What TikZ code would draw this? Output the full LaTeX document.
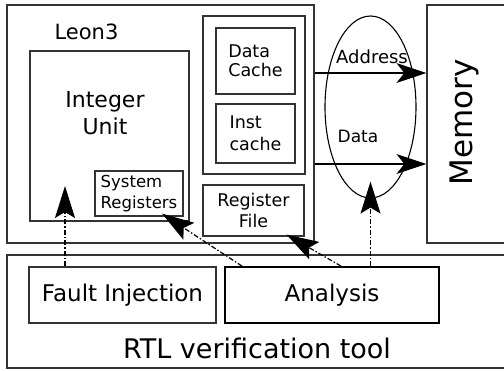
\documentclass[tikz,border=0pt]{standalone}
\usepackage{fontspec}
\setmainfont{DejaVu Sans}
\usetikzlibrary{arrows.meta,shapes.geometric}

\begin{document}
\begin{tikzpicture}[x=1pt, y=-1pt, inner sep=0pt,
    box/.style={draw=black!80, line width=1.2pt},
    txt/.style 2 args={font=\fontsize{#1}{#2}\selectfont},
    bus/.style={-{Stealth[length=30pt,width=20pt,inset=8pt]}, line width=1.2pt},
    probe/.style={-{Stealth[length=32pt,width=20pt,inset=6pt]}, line width=1.2pt,
      dash pattern=on 5pt off 2pt on 1.5pt off 2pt}]
   \useasboundingbox (0,0) rectangle (504,370);
   \node[box, minimum width=503, minimum height=113] (rtl) at (258.5,311.5) {};
   \node[txt={27}{32}] (rtllbl) at (257,348) {RTL verification tool};
   \node[box, minimum width=187, minimum height=56, txt={23}{28}] (fi) at (122.5,295) {Fault Injection};
   \node[box, draw=black, line width=1.8pt, minimum width=214, minimum height=56, txt={23}{28}] (ana) at (332,295) {Analysis};

   \node[box, minimum width=307, minimum height=238] (leon) at (160.5,124) {};
   \node[txt={21}{26}] (leonlbl) at (86.5,32) {Leon3};
   \node[box, minimum width=159, minimum height=170] (iu) at (109.5,136) {};
   \node[txt={22}{27}, align=center] (iulbl) at (105,113.5) {Integer\\Unit};
   \node[box, minimum width=88, minimum height=45, align=left, txt={16.5}{21}] (sysreg) at (139,193.5) {System\\Registers};
   \node[box, minimum width=102, minimum height=158] (cache) at (254,95) {};
   \node[box, minimum width=79, minimum height=66, align=left, txt={17.5}{19}] (dcache) at (255.5,61) {Data\\Cache};
   \node[box, minimum width=79, minimum height=59, align=left, txt={17.5}{22}] (icache) at (255.5,133.5) {Inst\\cache};
   \node[box, minimum width=101, minimum height=51, align=center, txt={17.5}{21}] (regfile) at (253.5,210.5) {Register\\File};

   \node[draw, ellipse, line width=1.1pt, minimum width=91, minimum height=182] (ell) at (370.5,107) {};
   \node[box, minimum width=83, minimum height=238] (mem) at (468.5,124) {};
   \node[txt={31}{37}, rotate=90] (memlbl) at (464,122.5) {Memory};

   \coordinate (addr) at (0,73);
   \coordinate (dat) at (0,164);
   \draw[bus] (addr -| leon.east) -- (addr -| mem.west);
   \draw[bus] (dat -| leon.east) -- (dat -| mem.west);
   \node[txt={18}{22}] (addrlbl) at (372,56.5) {Address};
   \node[txt={17}{21}] (datlbl) at (358,136) {Data};

   \coordinate (fitip) at (65,186);
   \draw[probe] (fitip |- fi.north) -- (fitip);
   \draw[probe] ([xshift=-90pt]ana.north) -- ([xshift=23pt,yshift=3pt]sysreg.south);
   \draw[probe] ([xshift=9pt]ana.north) -- ([xshift=33pt,yshift=2pt]regfile.south);
   \draw[probe] (ana.north -| ell.south) -- ([yshift=17pt]ell.south);
\end{tikzpicture}
\end{document}
